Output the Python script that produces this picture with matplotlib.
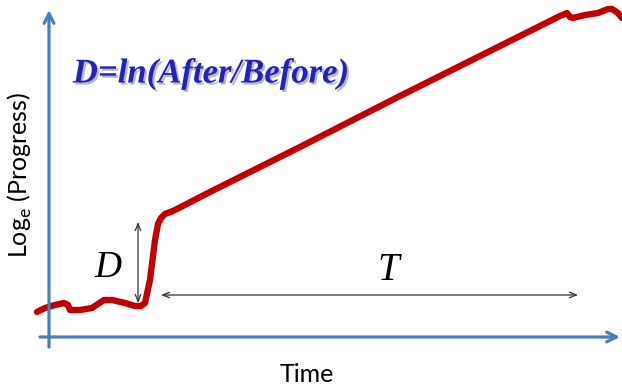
import matplotlib
matplotlib.use("Agg")
import matplotlib.pyplot as plt
import matplotlib.patheffects as pe

# courbe log(progression) en fonction du temps (unites ~ pixels de l'image)
temps = [37, 45, 55, 64, 68, 70, 80, 92, 98, 104, 112, 125, 135, 141, 145,
         150, 155, 158, 161, 165, 173, 210, 300, 400, 500, 560, 567, 570,
         573, 585, 598, 608, 612, 618, 622]
log_prog = [76, 80, 83, 85, 83, 78, 78, 80, 84, 88, 88, 85, 82, 82, 85,
            108, 148, 164, 170, 174, 177, 196, 241, 292, 342, 372, 375, 371,
            370, 373, 375, 379, 379, 375, 370]

# fleche D (saut) et fleche T (duree)
d_x = 138
d_bas, d_haut = 85, 166
t_y = 93
t_debut, t_fin = 161, 578

fig = plt.figure(figsize=(6.22, 3.88), dpi=100)
ax = fig.add_axes([0, 0, 1, 1])
ax.set_xlim(0, 622)
ax.set_ylim(0, 388)
ax.axis('off')

bleu = '#4A7EBB'
fleche_axe = dict(arrowstyle='->, head_length=0.7, head_width=0.35', color=bleu, lw=2.3,
                  shrinkA=0, shrinkB=0)
# axes dessines a la main
ax.annotate('', xy=(49, 378), xytext=(49, 41), arrowprops=fleche_axe)
ax.annotate('', xy=(620, 51), xytext=(40, 51), arrowprops=fleche_axe)

ax.plot(temps, log_prog, color='#C00000', lw=4.6, solid_capstyle='round', solid_joinstyle='round')

fleche_fine = dict(arrowstyle='<->, head_length=0.5, head_width=0.2', color='#333333', lw=0.9,
                   shrinkA=0, shrinkB=0)
ax.annotate('', xy=(d_x, d_haut), xytext=(d_x, d_bas), arrowprops=fleche_fine)
ax.annotate('', xy=(t_debut, t_y), xytext=(t_fin, t_y), arrowprops=fleche_fine)

ax.text(108, 120, 'D', fontfamily='Liberation Serif', style='italic', fontsize=27,
        ha='center', va='center')
ax.text(388, 117, 'T', fontfamily='Liberation Serif', style='italic', fontsize=28,
        ha='center', va='center')

ax.text(211, 314, 'D=ln(After/Before)', fontfamily='Liberation Serif', style='italic',
        weight='bold', fontsize=25, color='#2222B8', ha='center', va='center',
        path_effects=[pe.SimplePatchShadow(offset=(1.5, -1.5), shadow_rgbFace='#777777', alpha=0.5),
                      pe.Normal()])

ax.text(307, 6, 'Time', fontfamily='Lato', fontsize=18, ha='center', va='baseline')
ax.text(20, 213, 'Log$_\\mathregular{e}$ (Progress)', fontfamily='Lato', fontsize=18,
        rotation=90, ha='center', va='center')

fig.savefig('out.png', dpi=100)
